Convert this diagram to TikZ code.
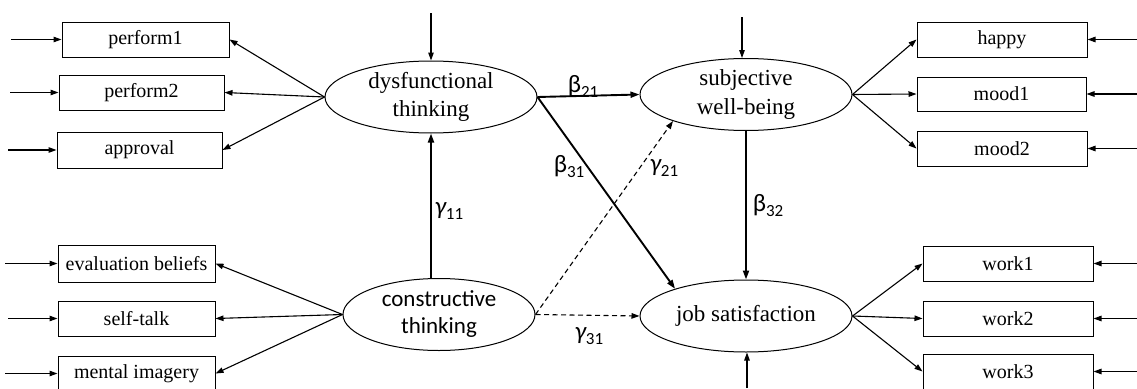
\documentclass[tikz,border=0pt]{standalone}
\usepackage{fontspec}
\setmainfont{Liberation Serif}
\newfontfamily\calfont{Carlito}
\usetikzlibrary{shapes.geometric,arrows.meta}
\begin{document}
\begin{tikzpicture}[x=1pt,y=-1pt,
  obs/.style={draw,line width=1pt,rectangle,inner sep=0pt,minimum height=35pt,font=\fontsize{20}{24}\selectfont},
  lat/.style={draw,line width=1pt,ellipse,inner sep=0pt,minimum width=212pt,minimum height=72pt,align=center,font=\fontsize{23}{28.5}\selectfont},
  ind/.style={line width=1.1pt,-{Triangle[length=8pt,width=5.5pt]}},
  path/.style={line width=1.9pt,-{Triangle[length=9pt,width=6pt]}},
  dpath/.style={line width=1.1pt,dash pattern=on 5pt off 3.5pt,-{Triangle[length=8pt,width=5.5pt]}},
  coef/.style={font=\calfont\fontsize{25}{27}\selectfont,inner sep=0pt}
]
\useasboundingbox (0,0) rectangle (1137,388);
\clip (0,0) rectangle (1137,388);
\newcommand{\sbs}[1]{\raisebox{-0.2em}{\fontsize{17}{17}\selectfont #1}}

% latent variables
\node[lat] (dys) at (431,97) {dysfunctional\\thinking};
\node[lat] (sub) at (746,94.5) {subjective\\well-being};
\node[lat,minimum width=192pt,font=\calfont\fontsize{23}{27}\selectfont] (con) at (439,314.5) {constructive\\thinking};
\node[lat] (job) at (746,316) {job satisfaction};

% observed left
\node[obs,minimum width=167pt] (p1) at (145.5,39.5) {perform1};
\node[obs,minimum width=165pt] (p2) at (141.5,92.5) {perform2};
\node[obs,minimum width=165pt,minimum height=36pt] (ap) at (139.5,150) {approval};
\node[obs,minimum width=157pt,minimum height=37pt] (eb) at (136.5,263.5) {evaluation beliefs};
\node[obs,minimum width=157pt] (st) at (136.5,318.5) {self-talk};
\node[obs,minimum width=157pt] (mi) at (136.5,373.5) {mental imagery};

% observed right
\node[obs,minimum width=170pt] (ha) at (1002,39.5) {happy};
\node[obs,minimum width=169pt,minimum height=34pt] (m1) at (1001.5,94) {mood1};
\node[obs,minimum width=170pt] (m2) at (1002,148.5) {mood2};
\node[obs,minimum width=170pt] (w1) at (1008,263.5) {work1};
\node[obs,minimum width=170pt] (w2) at (1008,318.5) {work2};
\node[obs,minimum width=170pt] (w3) at (1008,371.5) {work3};

% error terms (free ends)
\coordinate (ep1) at (11,39.5);
\coordinate (ep2) at (10,92.5);
\coordinate (eap) at (8,150);
\coordinate (eeb) at (5,263.5);
\coordinate (est) at (8,318.5);
\coordinate (emi) at (5,373.5);
\coordinate (eha) at (1137,39.5);
\coordinate (em1) at (1137,94);
\coordinate (em2) at (1137,148.5);
\coordinate (ew1) at (1137,263.5);
\coordinate (ew2) at (1137,318.5);
\coordinate (ew3) at (1137,371.5);
\coordinate (edys) at (431,13);
\coordinate (esub) at (742,17);
\coordinate (ejob) at (747,388);

\foreach \e/\b in {ep1/p1,ep2/p2,eap/ap,eeb/eb,est/st,emi/mi}
  \draw[ind] (\e) -- (\b.west);
\foreach \e/\b in {eha/ha,em1/m1,em2/m2,ew1/w1,ew2/w2,ew3/w3}
  \draw[ind] (\e) -- (\b.east);
\draw[ind] (edys) -- (dys.north);
\draw[ind] (esub) -- (esub |- sub.north);
\draw[ind] (ejob) -- (ejob |- job.south);

% loadings
\foreach \b in {p1,p2,ap} \draw[ind] (dys.west) -- (\b.east);
\foreach \b in {eb,st,mi} \draw[ind] (con.west) -- (\b.east);
\foreach \b in {ha,m1,m2} \draw[ind] (sub.east) -- (\b.west);
\foreach \b in {w1,w2,w3} \draw[ind] (job.east) -- (\b.west);

% structural paths
\draw[path] (dys.east) -- (sub.west);
\draw[path] (dys.east) -- (job.159);
\draw[path] (dys.south |- con.north) -- (dys.south);
\draw[path] (sub.south) -- (job.north);
\draw[dpath] (con.east) -- (sub.200);
\draw[dpath] (con.east) -- (job.west);

% coefficients
\node[coef] (b21) at (583,86) {β\sbs{21}};
\node[coef] (b31) at (569,167) {β\sbs{31}};
\node[coef] (g21) at (664,168) {\itshape γ\sbs{\upshape 21}};
\node[coef] (g11) at (449,211) {\itshape γ\sbs{\upshape 11}};
\node[coef] (b32) at (768,206) {β\sbs{32}};
\node[coef] (g31) at (589,336) {\itshape γ\sbs{\upshape 31}};
\end{tikzpicture}
\end{document}
